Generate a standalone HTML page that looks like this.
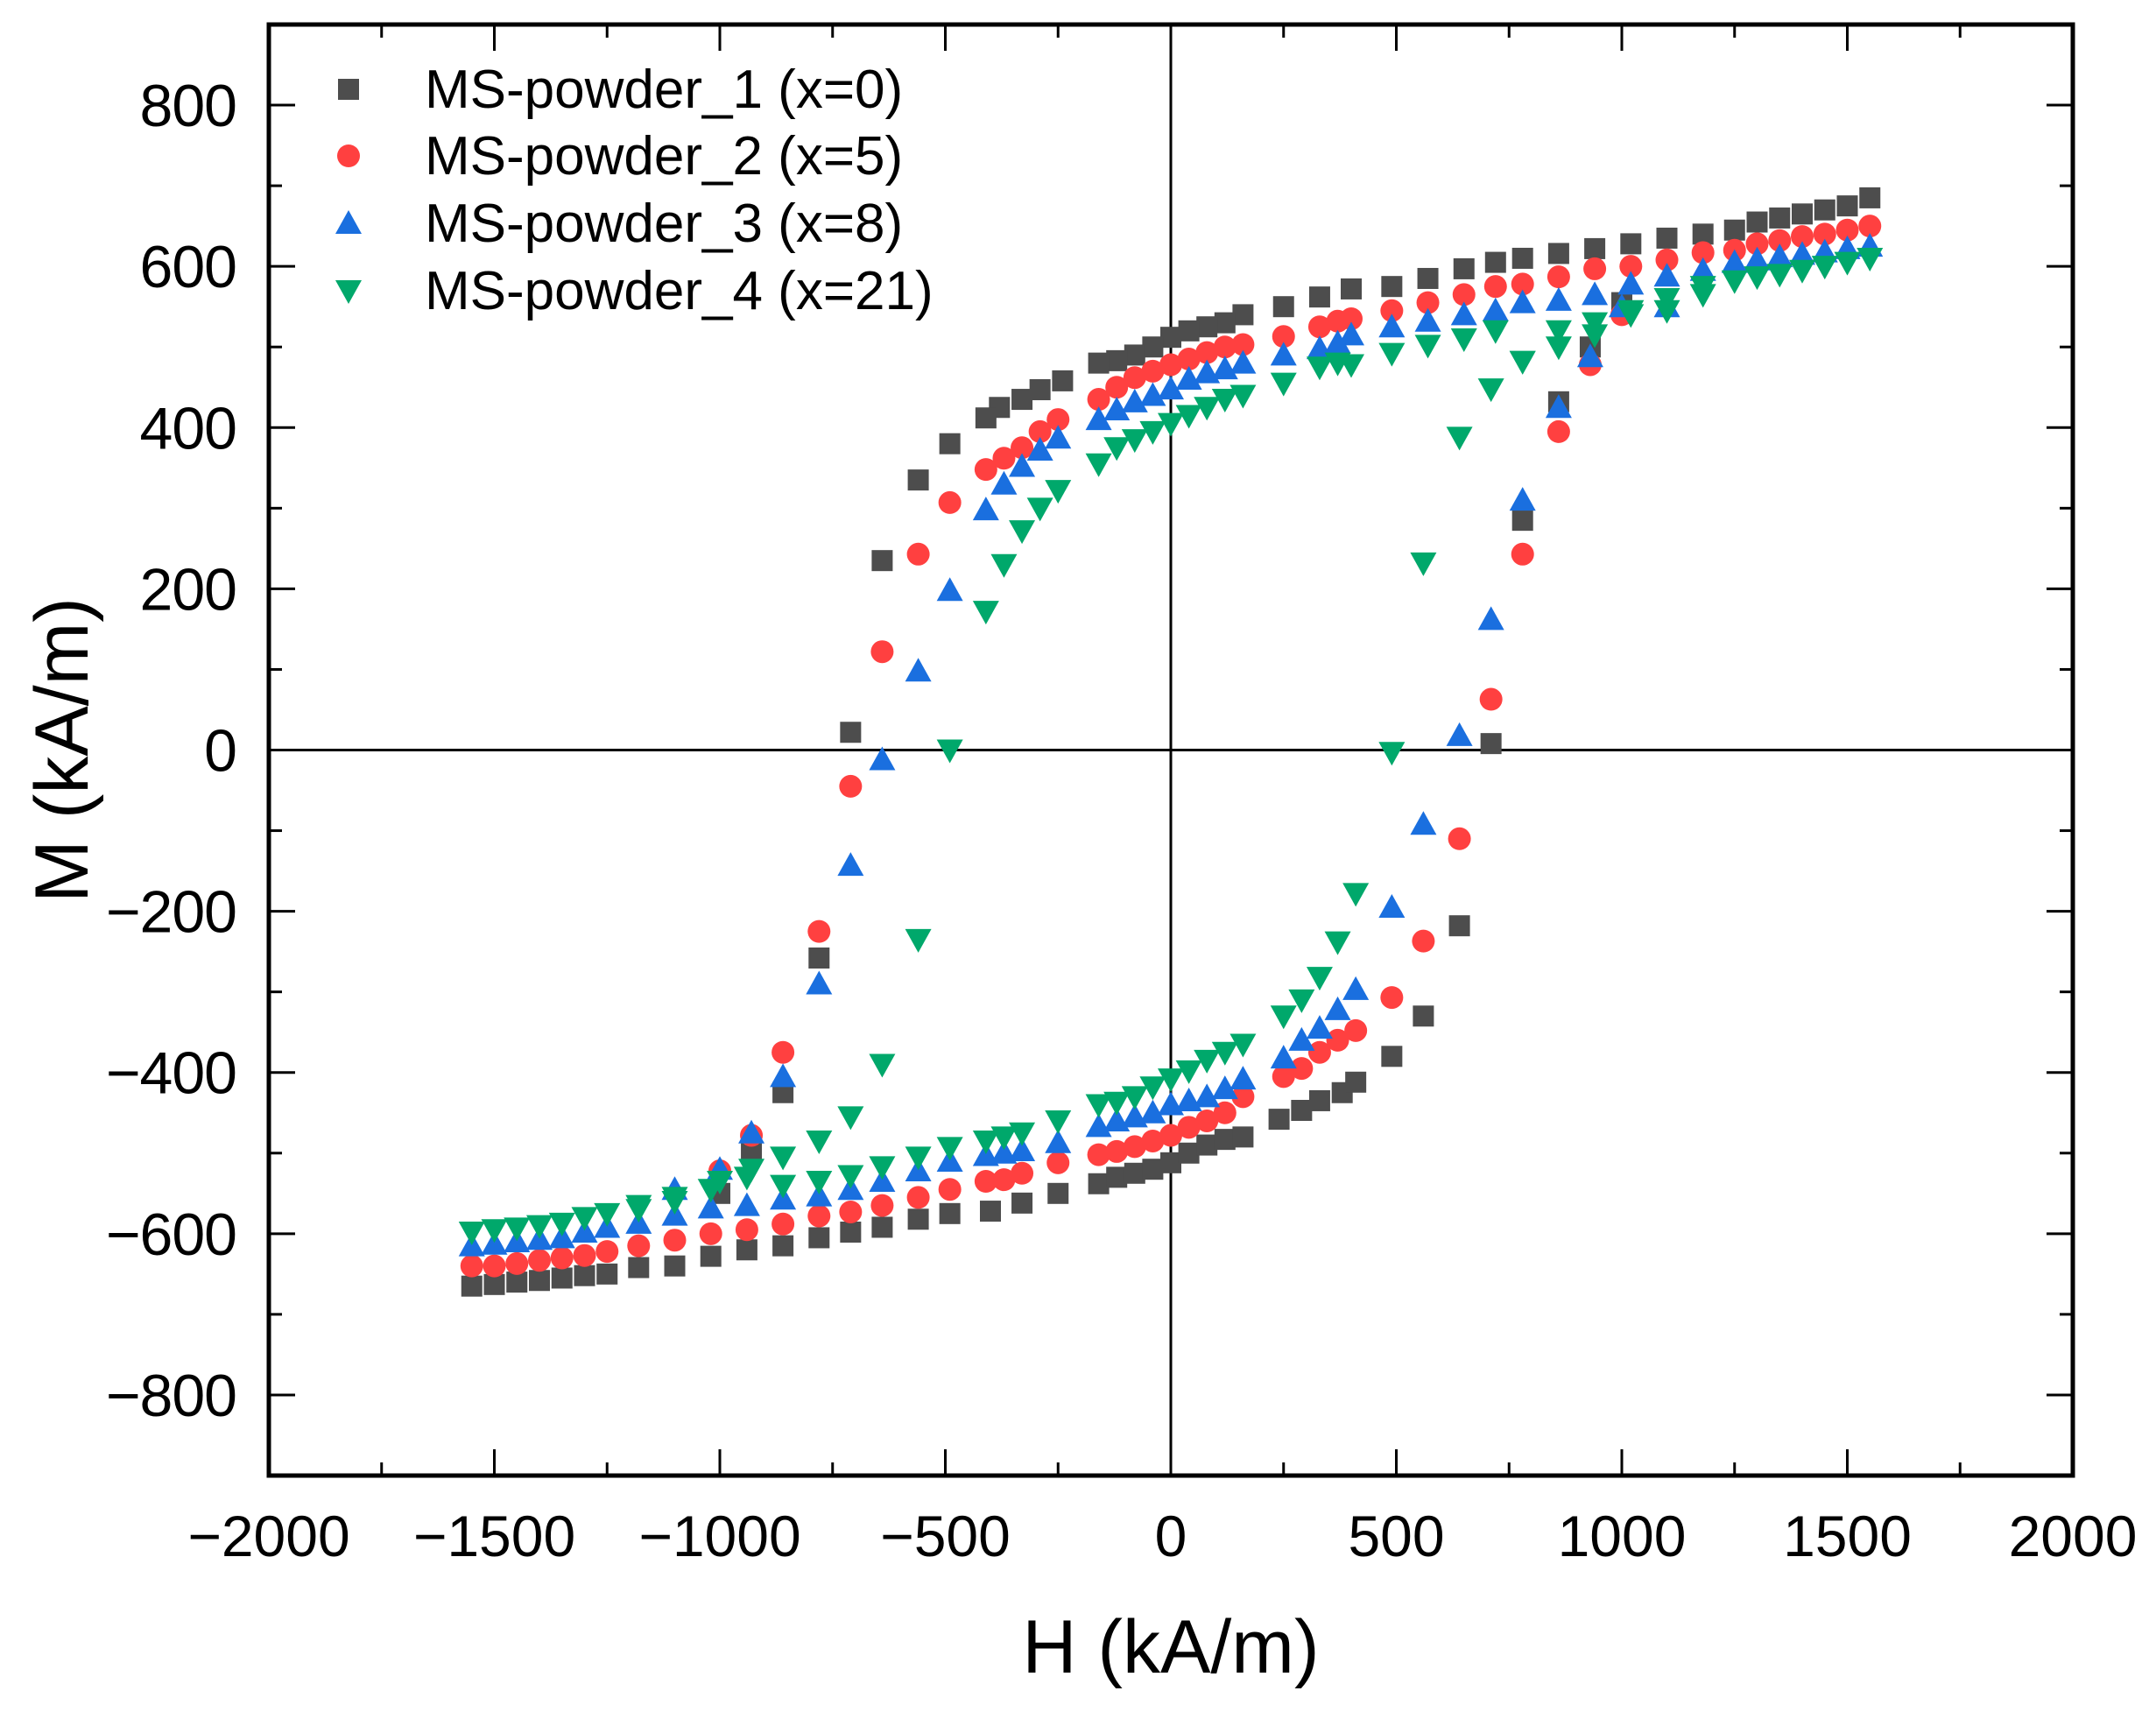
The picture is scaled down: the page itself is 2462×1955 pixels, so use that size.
<!DOCTYPE html>
<html><head><meta charset="utf-8"><style>
html,body{margin:0;padding:0;background:#fff}
svg{display:block;font-family:"Liberation Sans",Arial,sans-serif}
</style></head><body>
<svg id="chart" width="2462" height="1955" viewBox="0 0 2462 1955" xmlns="http://www.w3.org/2000/svg">
<g id="marks"></g>
<g id="axes"></g>
</svg>
<script>
const xTicks=[-2000,-1500,-1000,-500,0,500,1000,1500,2000];
const yTicks=[-800,-600,-400,-200,0,200,400,600,800];
const seriesNames=["MS-powder_1 (x=0)","MS-powder_2 (x=5)","MS-powder_3 (x=8)","MS-powder_4 (x=21)"];
const s1H=[1550,1500,1450,1400,1350,1300,1250,1180,1100,1020,940,860,780,720,650,570,490,400,330,250,160,120,80,40,0,-40,-80,-120,-160,-240,-290,-330,-380,-410,-490,-560,-640,-710,-780,-860,-930,-1000,
-1550,-1500,-1450,-1400,-1350,-1300,-1250,-1180,-1100,-1020,-940,-860,-780,-710,-640,-560,-490,-400,-330,-250,-160,-120,-80,-40,0,40,80,120,160,240,290,330,380,410,490,560,640,710,780,860,930,1000];
const s1M=[685,675,670,665,660,655,645,640,635,628,622,616,610,605,597,585,575,572,562,550,540,530,525,520,512,500,490,483,480,458,447,435,425,412,380,335,235,22,-258,-425,-500,-550,
-665,-663,-660,-658,-655,-652,-650,-642,-640,-628,-620,-615,-605,-598,-592,-582,-575,-572,-562,-550,-538,-530,-525,-520,-512,-500,-490,-483,-480,-458,-447,-435,-425,-412,-380,-330,-218,8,285,432,500,555];
const s2H=[1550,1500,1450,1400,1350,1300,1250,1180,1100,1020,940,860,780,720,650,570,490,400,370,330,250,160,120,80,40,0,-40,-80,-120,-160,-250,-290,-330,-370,-410,-490,-560,-640,-710,-780,-860,-930,-1000,
-1550,-1500,-1450,-1400,-1350,-1300,-1250,-1180,-1100,-1020,-940,-860,-780,-710,-640,-560,-490,-410,-370,-330,-250,-160,-120,-80,-40,0,40,80,120,160,250,290,330,370,410,490,560,640,710,780,860,930,1000];
const s2M=[650,645,640,637,632,628,620,617,608,600,597,587,578,575,565,555,545,535,532,525,513,503,500,493,485,478,470,462,450,435,410,395,375,362,348,307,243,122,-45,-225,-375,-478,-522,
-640,-640,-637,-633,-630,-627,-622,-615,-608,-600,-595,-588,-578,-573,-565,-555,-545,-535,-533,-525,-512,-502,-498,-492,-485,-478,-468,-460,-450,-430,-405,-395,-375,-360,-348,-307,-237,-110,63,243,395,478,540];
const s3H=[1550,1500,1450,1400,1350,1300,1250,1180,1100,1020,940,860,780,720,650,570,490,400,370,330,250,160,120,80,40,0,-40,-80,-120,-160,-250,-290,-330,-370,-410,-490,-560,-640,-710,-780,-860,-930,-1000,-1100,
-1550,-1500,-1450,-1400,-1350,-1300,-1250,-1180,-1100,-1020,-940,-860,-780,-710,-640,-560,-490,-410,-370,-330,-250,-160,-120,-80,-40,0,40,80,120,160,250,290,330,370,410,490,560,640,710,780,860,930,1000,1100];
const s3M=[625,622,618,615,612,608,605,595,588,578,565,558,555,545,540,532,525,515,505,498,490,480,473,468,460,448,440,432,422,410,387,372,352,330,298,198,98,-12,-143,-290,-405,-475,-520,-545,
-615,-613,-610,-607,-605,-598,-592,-587,-577,-568,-565,-557,-553,-545,-535,-522,-510,-503,-500,-497,-487,-467,-460,-455,-450,-440,-435,-430,-420,-408,-382,-360,-345,-322,-297,-195,-92,18,162,310,425,488,550,550];
const s4H=[1550,1500,1450,1400,1350,1300,1250,1180,1100,1020,940,860,780,720,650,570,490,400,370,330,250,160,120,80,40,0,-40,-80,-120,-160,-250,-290,-330,-370,-410,-490,-560,-640,-710,-780,-860,-930,-1000,-1100,-1180,
-1550,-1500,-1450,-1400,-1350,-1300,-1250,-1180,-1100,-1020,-940,-860,-780,-710,-640,-560,-490,-410,-370,-330,-250,-160,-120,-80,-40,0,40,80,120,160,250,290,330,370,410,490,560,640,710,780,860,940,1020,1100,1180];
const s4M=[610,605,600,595,590,587,582,575,560,545,530,520,482,520,510,502,492,478,480,475,455,440,435,425,415,405,395,385,375,355,322,300,272,230,172,0,-235,-390,-455,-485,-505,-520,-535,-555,-570,
-598,-595,-593,-590,-587,-580,-575,-565,-560,-545,-530,-540,-535,-528,-517,-505,-493,-485,-480,-475,-460,-440,-437,-430,-418,-408,-398,-385,-375,-365,-330,-310,-282,-238,-178,-3,232,388,448,482,500,515,540,545,565];

const L=307,R=2367,T=28,B=1685;
const X=h=>L+(h+2000)/4000*(R-L);
const Y=m=>B-(m+900)/1800*(B-T);
const NS="http://www.w3.org/2000/svg";
function mk(tag,attrs,parent){const e=document.createElementNS(NS,tag);for(const k in attrs)e.setAttribute(k,attrs[k]);parent.appendChild(e);return e;}
const marks=document.getElementById('marks'),axes=document.getElementById('axes');
const colors=["#4d4d4d","#ff4040","#1a6fdf","#00a86b"];
function marker(type,cx,cy,g){
  let e;
  if(type===0)e=mk('rect',{x:cx-12,y:cy-12,width:24,height:24,fill:colors[0]},g);
  else if(type===1)e=mk('circle',{cx:cx,cy:cy,r:13,fill:colors[1]},g);
  else if(type===2)e=mk('polygon',{points:`${cx},${cy-15} ${cx+15},${cy+12} ${cx-15},${cy+12}`,fill:colors[2]},g);
  else e=mk('polygon',{points:`${cx},${cy+15} ${cx+15},${cy-12} ${cx-15},${cy-12}`,fill:colors[3]},g);
  return e;
}
const allH=[s1H,s2H,s3H,s4H],allM=[s1M,s2M,s3M,s4M];
let zl=mk('line',{x1:X(0),x2:X(0),y1:T,y2:B,stroke:'#000','stroke-width':3},marks);


zl=mk('line',{x1:L,x2:R,y1:Y(0),y2:Y(0),stroke:'#000','stroke-width':3},marks);


for(let s=0;s<4;s++){
  const g=mk('g',{},marks);
  
  
  for(let i=0;i<allH[s].length;i++){
    const m=marker(s,X(allH[s][i]),Y(allM[s][i]),g);
    
    
  }
}
const fr=mk('rect',{x:L,y:T,width:R-L,height:B-T,fill:'none',stroke:'#000','stroke-width':5},axes);


for(let v=-2000;v<=2000;v+=250){
  const major=v%500===0,len=major?30:15,x=X(v);
  mk('line',{x1:x,x2:x,y1:B,y2:B-len,stroke:'#000','stroke-width':3},axes);
  mk('line',{x1:x,x2:x,y1:T,y2:T+len,stroke:'#000','stroke-width':3},axes);
}
for(let v=-800;v<=800;v+=100){
  const major=v%200===0,len=major?30:15,y=Y(v);
  mk('line',{x1:L,x2:L+len,y1:y,y2:y,stroke:'#000','stroke-width':3},axes);
  mk('line',{x1:R,x2:R-len,y1:y,y2:y,stroke:'#000','stroke-width':3},axes);
}
xTicks.forEach(v=>{
  const t=mk('text',{x:X(v),y:1777,'font-size':66,'text-anchor':'middle'},axes);
  t.textContent=(v<0?'\u2212':'')+Math.abs(v);
  
  
});
yTicks.forEach(v=>{
  const t=mk('text',{x:270,y:Y(v)+24,'font-size':68,'text-anchor':'end','letter-spacing':-1},axes);
  t.textContent=(v<0?'\u2212':'')+Math.abs(v);
  
  
});
let t=mk('text',{x:X(0),y:1910,'font-size':86,'text-anchor':'middle'},axes);
t.textContent='H (kA/m)';


t=mk('text',{x:0,y:0,'font-size':86,'text-anchor':'middle',transform:`translate(100,${Y(0)}) rotate(-90)`},axes);
t.textContent='M (kA/m)';


const lg=mk('g',{},axes);


const ly=[102,178,255,332];
seriesNames.forEach((n,i)=>{
  const g=mk('g',{},lg);
  
  
  marker(i,398,ly[i],g);
  const tx=mk('text',{x:485,y:ly[i]+21,'font-size':62},g);
  tx.textContent=n;
});
</script>
</body></html>
